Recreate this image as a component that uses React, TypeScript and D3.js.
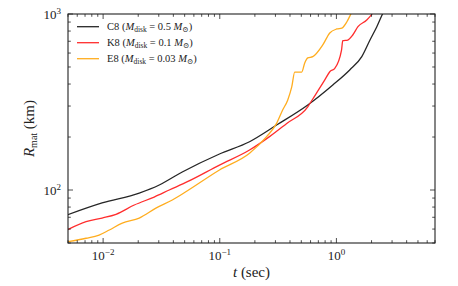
import React from 'react'
import * as d3 from 'd3'

// time (sec) and matter radius (km)
const tC8 = [0.0049, 0.0098, 0.0204, 0.0303, 0.0477, 0.0994, 0.18, 0.307, 0.568, 0.931, 1.3, 1.65, 1.94, 2.22, 2.51, 2.6]
const rC8 = [72.1, 84.4, 96.1, 106.8, 126.6, 160.2, 188.1, 233.9, 304, 395, 481, 572, 711, 847, 1014, 1060]

const tK8 = [0.0049, 0.00714, 0.0098, 0.0129, 0.0185, 0.0274, 0.0369, 0.0528, 0.0994, 0.18, 0.267, 0.375, 0.568, 0.627, 0.795, 0.877, 0.968, 1.106, 1.133, 1.25, 1.38, 1.53, 1.82, 2.02, 2.1]
const rK8 = [59.3, 66.1, 69.3, 72.8, 82.2, 91.2, 100, 111.5, 138.6, 168.7, 201, 239, 297, 329, 422, 470, 491, 624, 705, 711, 760, 847, 924, 1000, 1040]

const tE8 = [0.0049, 0.00714, 0.00924, 0.0113, 0.0146, 0.0204, 0.0286, 0.0392, 0.0528, 0.0994, 0.18, 0.252, 0.307, 0.346, 0.382, 0.414, 0.439, 0.504, 0.535, 0.568, 0.627, 0.764, 0.877, 1.008, 1.113, 1.23, 1.33, 1.38]
const rE8 = [50.8, 53.2, 55.5, 59.3, 64.9, 69.3, 79.1, 87.7, 99, 129.9, 161.6, 201, 239, 284.8, 324, 385, 468, 468, 527, 563, 572, 667, 780, 822, 832, 904, 1000, 1050]

const names = ['C8', 'K8', 'E8']
const masses = ['0.5', '0.1', '0.03']
const colors = ['#262626', '#ff2d2d', '#ffad1f']

const xMajor = [0.01, 0.1, 1]
const xExp = ['\u22122', '\u22121', '0']
const yMajor = [100, 1000]
const yExp = ['2', '3']

const W = 458
const H = 286
const M = { left: 68, top: 14, right: 23, bottom: 43 }
const FONT = "'Liberation Serif', 'DejaVu Serif', serif"

export default function App() {
  const iw = W - M.left - M.right
  const ih = H - M.top - M.bottom

  const x = d3.scaleLog().domain([0.005, 7]).range([0, iw])
  const y = d3.scaleLog().domain([50, 1000]).range([ih, 0])

  const series = [
    tC8.map((t, i) => [t, rC8[i]] as [number, number]),
    tK8.map((t, i) => [t, rK8[i]] as [number, number]),
    tE8.map((t, i) => [t, rE8[i]] as [number, number])
  ]

  const line = d3
    .line<[number, number]>()
    .x((d) => x(d[0]))
    .y((d) => y(d[1]))
    .curve(d3.curveMonotoneX)

  const xTicks = x.ticks().filter((t) => t >= 0.005 && t <= 7)
  const yTicks = y.ticks().filter((t) => t >= 50 && t <= 1000)
  const isMajor = (v: number) => Math.abs(Math.log10(v) - Math.round(Math.log10(v))) < 1e-6

  return (
    <svg width={W} height={H} style={{ position: 'absolute', left: 0, top: 0, fontFamily: FONT }}>
      <defs>
        <clipPath id="plot">
          <rect width={iw} height={ih} />
        </clipPath>
      </defs>
      <g transform={`translate(${M.left},${M.top})`}>
        <g clipPath="url(#plot)">
          {series.map((s, i) => (
            <path key={i} d={line(s) || ''} fill="none" stroke={colors[i]} strokeWidth={1.3} />
          ))}
        </g>

        {/* ticks, inward on all four sides */}
        <g stroke="#222" strokeWidth={0.8}>
          {xTicks.map((t, i) => {
            const len = isMajor(t) ? 5 : 2.8
            return (
              <g key={i}>
                <line x1={x(t)} x2={x(t)} y1={ih} y2={ih - len} />
                <line x1={x(t)} x2={x(t)} y1={0} y2={len} />
              </g>
            )
          })}
          {yTicks.map((t, i) => {
            const len = isMajor(t) ? 5 : 2.8
            return (
              <g key={i}>
                <line x1={0} x2={len} y1={y(t)} y2={y(t)} />
                <line x1={iw} x2={iw - len} y1={y(t)} y2={y(t)} />
              </g>
            )
          })}
        </g>
        <rect width={iw} height={ih} fill="none" stroke="#222" strokeWidth={1.1} />

        {xMajor.map((t, i) => (
          <text key={i} x={x(t)} y={ih + 17} textAnchor="middle" fontSize={13} fill="#222">
            10<tspan dy={-5} fontSize={9}>{xExp[i]}</tspan>
          </text>
        ))}
        {yMajor.map((t, i) => (
          <text key={i} x={-7} y={y(t) + 4.5} textAnchor="end" fontSize={13} fill="#222">
            10<tspan dy={-5} fontSize={9}>{yExp[i]}</tspan>
          </text>
        ))}

        <text x={iw / 2} y={ih + 34} textAnchor="middle" fontSize={15} fill="#222">
          <tspan fontStyle="italic">t</tspan> (sec)
        </text>
        <text transform={`translate(-34,${ih / 2}) rotate(-90)`} textAnchor="middle" fontSize={15} fill="#222">
          <tspan fontStyle="italic">R</tspan>
          <tspan fontSize={10} dy={3}>mat</tspan>
          <tspan dy={-3}> (km)</tspan>
        </text>

        {names.map((n, i) => (
          <g key={n} transform={`translate(9,${12.7 + i * 16})`}>
            <line x1={0} x2={22} y1={0} y2={0} stroke={colors[i]} strokeWidth={1.3} />
            <text x={30} y={3.5} fontSize={10.5} fill="#222">
              {n} (<tspan fontStyle="italic">M</tspan>
              <tspan fontSize={7.5} dy={2}>disk</tspan>
              <tspan dy={-2}> = {masses[i]} </tspan>
              <tspan fontStyle="italic">M</tspan>
              <tspan fontSize={7.5} dy={2}>{'\u2299'}</tspan>
              <tspan dy={-2}>)</tspan>
            </text>
          </g>
        ))}
      </g>
    </svg>
  )
}
